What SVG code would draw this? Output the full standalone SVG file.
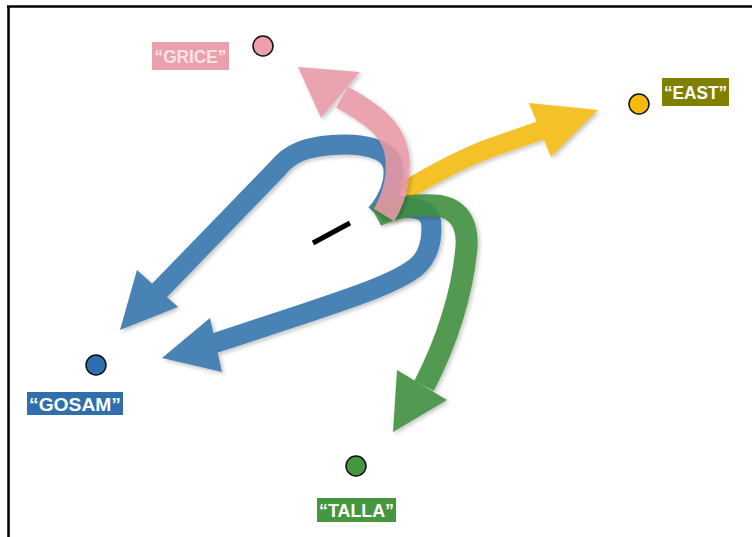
<svg xmlns="http://www.w3.org/2000/svg" width="752" height="537" viewBox="0 0 752 537">
<style>
.shaft{fill:none;stroke-linecap:butt;stroke-linejoin:round}
.dot{stroke:#111;stroke-width:1.5}
.lbl{font-family:"Liberation Sans",Arial,sans-serif;font-weight:bold;font-size:19px;text-anchor:middle}
</style>
<defs>
<filter id="sh" x="-10%" y="-10%" width="130%" height="130%">
<feDropShadow dx="2" dy="2" stdDeviation="2" flood-color="#000" flood-opacity="0.25"/>
</filter>
</defs>
<rect x="0" y="0" width="752" height="537" fill="#fff"/>
<path d="M7,6.5 H752 M8.5,6 V537" stroke="#000" stroke-width="2.5" fill="none"/>
<g id="connectors">
<g id="blue-upper" opacity="0.95" filter="url(#sh)">
<path class="shaft" stroke="#3f7bb0" stroke-width="20" d="M376,214 C388,200 396,182 393,166 C389,148 362,143 332,145 C306,147 290,153 278,168 L158,292"/>
<polygon fill="#3f7bb0" points="137,270 178,307 120,330"/>
</g>
<g id="blue-lower" opacity="0.95" filter="url(#sh)">
<path class="shaft" stroke="#3f7bb0" stroke-width="20" d="M380,212 C405,206 428,205 431,222 C433,240 428,258 415,268 C395,283 360,295 300,315 L212,344"/>
<polygon fill="#3f7bb0" points="210,318 222,372 162,358"/>
</g>
<g id="yellow" opacity="0.92" filter="url(#sh)">
<path class="shaft" stroke="#f4bd14" stroke-width="19" d="M404,191 C425,180 450,163 490,148 L542,130"/>
<polygon fill="#f4bd14" points="529,103 551,157 598,110"/>
</g>
<g id="green" opacity="0.9" filter="url(#sh)">
<path class="shaft" stroke="#3f8f3f" stroke-width="22" d="M376,216 C395,206 420,204 440,206 C462,210 469,228 466,252 C462,292 448,340 424,386"/>
<polygon fill="#3f8f3f" points="397,370 447,400 393,432"/>
</g>
<g id="pink" opacity="0.88" filter="url(#sh)">
<path class="shaft" stroke="#e898a5" stroke-width="24" d="M384,215 C395,197 401,172 396,150 C391,128 372,114 342,97"/>
<polygon fill="#e898a5" points="360,72 321,118 298,67"/>
</g>
<line x1="313" y1="243" x2="350" y2="223" stroke="#000" stroke-width="5"/>
</g>
<g id="node-grice">
<circle class="dot" cx="263" cy="46" r="10" fill="#ef9fab"/>
<rect x="152" y="42" width="77" height="28" fill="#eba1ac"/>
<text class="lbl" x="190.5" y="63" fill="#f6e3e6" textLength="72" lengthAdjust="spacingAndGlyphs">“GRICE”</text>
</g>
<g id="node-east">
<circle class="dot" cx="639" cy="104" r="10" fill="#f7bb10"/>
<rect x="662" y="78" width="67" height="28" fill="#808000"/>
<text class="lbl" x="695.5" y="99" fill="#fff" textLength="63" lengthAdjust="spacingAndGlyphs">“EAST”</text>
</g>
<g id="node-gosam">
<circle class="dot" cx="96" cy="365" r="10" fill="#2f6fad"/>
<rect x="27" y="392" width="96" height="23" fill="#2f6fad"/>
<text class="lbl" x="75" y="410.5" fill="#fff" textLength="92" lengthAdjust="spacingAndGlyphs">“GOSAM”</text>
</g>
<g id="node-talla">
<circle class="dot" cx="356" cy="466" r="10" fill="#46963f"/>
<rect x="317" y="498" width="79" height="24" fill="#46963f"/>
<text class="lbl" x="356.5" y="517" fill="#fff" textLength="75" lengthAdjust="spacingAndGlyphs">“TALLA”</text>
</g>
</svg>
